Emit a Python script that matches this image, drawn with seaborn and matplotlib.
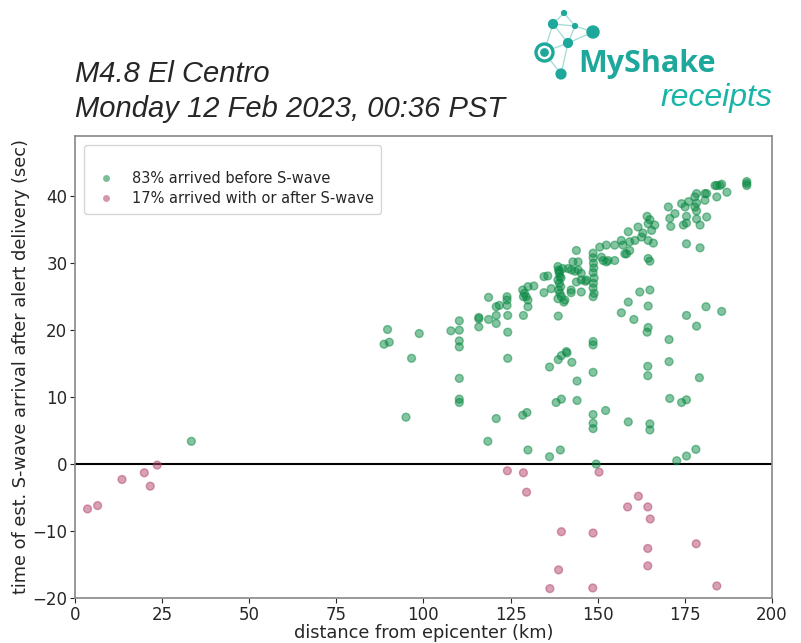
import matplotlib
matplotlib.use("Agg")
import matplotlib.pyplot as plt
from matplotlib.lines import Line2D
import seaborn as sns
import pandas as pd

# alerts that arrived before the S-wave (distance km, seconds of warning)
before_dist = [
    33.4,
    88.7, 90.2, 89.7, 98.8, 96.6, 95.0,
    107.9, 110.3, 110.3, 110.3, 110.3, 110.3, 110.3, 110.3,
    115.9, 115.9, 115.9,
    118.7, 118.7, 120.9, 120.9, 121.8, 120.9, 118.5, 120.9,
    124.0, 124.0, 124.0, 124.2, 124.2, 124.2,
    128.5, 129.0, 129.5, 130.0, 128.7, 130.0, 131.7, 130.0, 128.7, 128.5, 129.7, 130.0,
    134.6, 135.7, 136.7, 134.6, 136.2, 136.2,
    138.6, 138.8, 139.0, 139.2, 138.6, 139.0, 139.4, 138.8, 139.2, 139.6, 138.6, 139.0,
    139.5, 140.0, 138.7, 140.6, 138.7, 139.6, 141.0, 141.2, 138.1, 139.6, 139.3,
    141.5, 142.5, 143.5, 144.4, 145.3, 143.9, 142.9, 144.4, 142.4, 145.3, 145.3, 146.5,
    143.9, 146.8, 140.3, 142.4, 142.6, 144.1, 144.1,
    148.7, 148.7, 148.8, 148.9, 148.7, 149.0, 148.8, 148.7, 149.0, 148.7, 148.7, 148.7,
    148.7, 148.7, 148.7, 148.7, 149.6,
    150.6, 152.5, 151.1, 152.5, 151.6, 153.0, 154.9, 154.9, 152.3,
    157.3, 158.3, 156.8, 158.8, 159.2, 160.7, 157.8, 159.2, 158.8, 156.8, 160.4, 158.8,
    161.6, 162.6, 164.5, 165.5, 166.4, 164.5, 164.2, 163.0, 165.0, 166.0, 164.5, 165.0,
    162.1, 165.0, 164.5, 164.5, 164.2, 164.4, 164.4, 165.0, 165.0,
    170.3, 170.7, 172.2, 174.1, 175.1, 176.1, 175.5, 175.5, 174.6, 171.0, 175.5, 175.5,
    170.5, 170.5, 170.7, 174.1, 175.5, 172.7, 175.5,
    177.9, 177.9, 178.4, 178.4, 178.4, 178.4, 180.8, 180.8, 181.3, 181.3, 179.4, 179.4,
    181.1, 178.4, 179.2, 178.2,
    184.2, 185.6, 185.1, 183.7, 187.1, 184.2, 185.6, 192.8, 192.8, 192.8,
]
before_time = [
    3.4,
    17.9, 18.2, 20.1, 19.5, 15.8, 7.0,
    19.9, 21.4, 20.0, 18.4, 17.5, 12.8, 9.7, 9.2,
    21.7, 20.5, 21.9,
    24.9, 21.6, 22.2, 21.0, 23.7, 23.5, 3.4, 6.8,
    25.0, 24.5, 23.7, 22.2, 19.7, 15.8,
    26.0, 25.5, 25.0, 24.5, 25.0, 26.5, 26.6, 23.5, 22.2, 7.3, 7.7, 2.1,
    28.0, 28.1, 26.2, 25.6, 14.5, 1.1,
    29.5, 29.0, 28.5, 28.0, 27.5, 27.0, 26.5, 26.0, 25.5, 25.0, 24.7, 28.8,
    27.8, 29.2, 22.1, 24.5, 15.6, 16.2, 16.8, 16.6, 9.2, 9.7, 2.1,
    29.2, 29.0, 28.8, 29.0, 28.5, 31.9, 30.2, 30.2, 26.0, 25.7, 27.5, 27.3,
    27.2, 27.5, 24.2, 25.6, 15.2, 12.4, 9.5,
    31.5, 30.8, 30.0, 29.3, 28.6, 27.8, 27.0, 26.3, 25.5, 25.0, 18.3, 17.8,
    13.7, 7.4, 6.1, 5.3, 0.0,
    32.4, 32.7, 30.9, 30.2, 30.4, 30.4, 30.4, 32.7, 8.0,
    32.7, 31.4, 33.4, 34.7, 33.2, 33.4, 31.4, 31.9, 24.2, 22.6, 21.6, 6.3,
    35.4, 33.9, 35.9, 34.9, 35.7, 33.4, 37.0, 34.5, 36.5, 33.0, 30.7, 30.3,
    25.7, 26.0, 23.6, 20.4, 19.7, 14.6, 13.2, 6.0, 5.1,
    38.4, 36.7, 37.4, 38.9, 38.4, 39.2, 37.0, 36.0, 35.7, 35.5, 32.9, 22.2,
    18.6, 15.3, 9.8, 9.2, 9.6, 0.5, 1.2,
    39.9, 38.4, 40.4, 39.0, 37.8, 36.6, 40.4, 39.4, 40.4, 36.9, 35.7, 32.3,
    23.5, 20.6, 12.9, 2.2,
    41.6, 41.8, 41.6, 41.6, 40.6, 39.9, 22.8, 41.9, 41.6, 42.2,
]

# alerts that arrived with or after the S-wave
after_dist = [3.6, 6.5, 13.5, 19.9, 21.6, 23.6,
              124.1, 128.7, 129.6, 150.4, 161.7, 158.6, 164.4, 165.1, 139.6, 148.7,
              178.3, 164.4, 164.4, 138.8, 136.3, 148.6, 184.2]
after_time = [-6.7, -6.2, -2.3, -1.3, -3.3, -0.15,
              -1.0, -1.3, -4.2, -1.2, -4.8, -6.4, -6.4, -8.2, -10.1, -10.3,
              -11.9, -12.6, -15.2, -15.8, -18.6, -18.5, -18.2]

labels = ["83% arrived before S-wave", "17% arrived with or after S-wave"]
green = "#0b8a45"
pink = "#b2426d"

df = pd.concat([
    pd.DataFrame({"dist": before_dist, "t": before_time, "grp": labels[0]}),
    pd.DataFrame({"dist": after_dist, "t": after_time, "grp": labels[1]}),
])

sns.set_style("ticks")
plt.rcParams["font.family"] = ["DejaVu Sans"]

W, H = 801, 643
fig = plt.figure(figsize=(W / 100, H / 100), dpi=100)
ax = fig.add_axes([0.0936, 0.070, 0.870, 0.7185])

sns.scatterplot(data=df, x="dist", y="t", hue="grp", palette=[green, pink],
                alpha=0.5, s=32, edgecolor="face", linewidth=1.0, ax=ax, legend=False)
ax.axhline(0, color="black", lw=1.5, zorder=0)

ax.set_xlim(0, 200)
ax.set_ylim(-20, 49)
ax.set_yticks([-20, -10, 0, 10, 20, 30, 40])
ax.set_xlabel("distance from epicenter (km)", fontsize=12.8, labelpad=0)
ax.set_ylabel("time of est. S-wave arrival after alert delivery (sec)", fontsize=12.8, labelpad=2)
ax.tick_params(labelsize=12, pad=2)
for sp in ax.spines.values():
    sp.set_color("#888888")
    sp.set_linewidth(1.2)

handles = [Line2D([], [], ls="", marker="o", ms=5, color=green, alpha=0.55, mec="none"),
           Line2D([], [], ls="", marker="o", ms=5, color=pink, alpha=0.55, mec="none")]
ax.legend(handles, labels, title=" ", loc="upper left", fontsize=10.5,
          frameon=True, borderpad=0.5, handletextpad=0.8, labelspacing=0.35,
          borderaxespad=0.6)

# titles
fig.text(0.094, 0.885, "M4.8 El Centro", fontsize=21, style="italic",
         family="Liberation Sans", va="center")
fig.text(0.094, 0.831, "Monday 12 Feb 2023, 00:36 PST", fontsize=21, style="italic",
         family="Liberation Sans", va="center")

# MyShake logo
teal = "#1ea89b"
fig.text(0.722, 0.900, "MyShake", fontsize=22, fontweight="bold", color=teal,
         family="Open Sans", va="center")
fig.text(0.964, 0.848, "receipts", fontsize=23, style="italic", color="#18b5a6",
         family="Liberation Sans", va="center", ha="right")

# logo icon drawn on an overlay in pixel units
ov = fig.add_axes([0, 0, 1, 1], zorder=-1)
ov.set_xlim(0, W)
ov.set_ylim(H, 0)
ov.axis("off")
node_x = [564, 553, 575, 593, 568, 561, 544]
node_y = [13, 24, 26, 32, 43, 74, 52]
node_s = [12, 40, 12, 75, 40, 50, 0]
edges = [(0, 1), (0, 2), (1, 2), (2, 3), (1, 4), (2, 4), (4, 3), (1, 6), (4, 6), (6, 5), (4, 5)]
for a, b in edges:
    ov.plot([node_x[a], node_x[b]], [node_y[a], node_y[b]], color="#9edbd3", lw=0.9)
ov.scatter(node_x[:6], node_y[:6], s=node_s[:6], color=teal, zorder=3)
ov.scatter([544], [52], s=150, facecolor="white", edgecolor=teal, lw=2.4, zorder=3)
ov.scatter([544], [52], s=28, color=teal, zorder=4)

fig.savefig("out.png", dpi=100)
